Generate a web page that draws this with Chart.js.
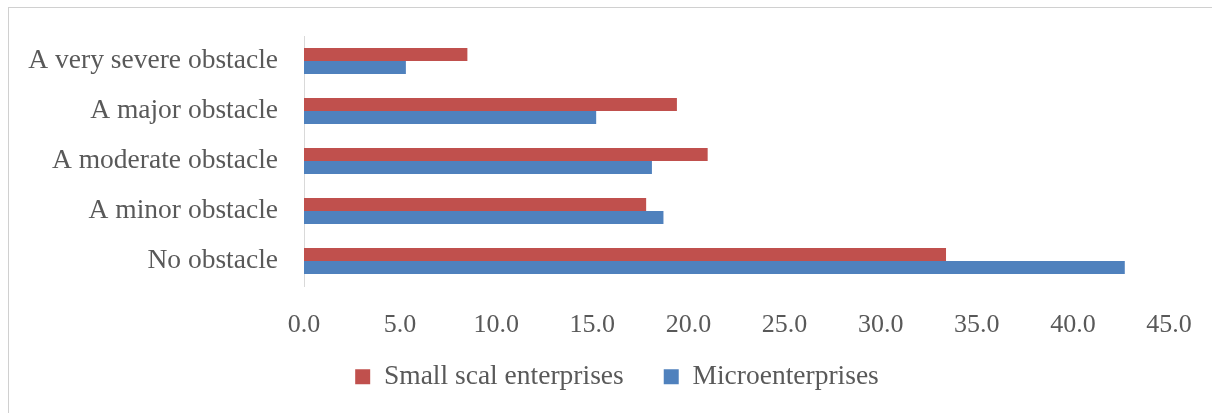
<!DOCTYPE html>
<html>
<head>
<meta charset="utf-8">
<title>Obstacle ratings by enterprise size</title>
<script src="https://cdn.jsdelivr.net/npm/chart.js@4.4.1/dist/chart.umd.min.js"></script>
<style>
  html, body { margin: 0; padding: 0; background: #ffffff; overflow: hidden; }
  body { width: 1212px; height: 413px; position: relative; }
  /* light grey frame round the chart */
  .frame {
    position: absolute; left: 8px; top: 7px; width: 1220px; height: 420px;
    border-left: 1px solid #d0d0d0; border-top: 1px solid #d0d0d0;
  }
  .chart-box { position: absolute; left: 9px; top: 8px; width: 1203px; height: 405px; }
</style>
</head>
<body>
<div class="frame"></div>
<div class="chart-box"><canvas id="obstacleChart"></canvas></div>
<script>
// Categories, top to bottom
const categories = [
  "A very severe obstacle",
  "A major obstacle",
  "A moderate obstacle",
  "A minor obstacle",
  "No obstacle"
];

// Percent of firms in each group
const smallScale = [8.5, 19.4, 21.0, 17.8, 33.4];
const micro = [5.3, 15.2, 18.1, 18.7, 42.7];

const seriesNames = ["Small scal enterprises", "Microenterprises"];
const xTicks = [0, 5, 10, 15, 20, 25, 30, 35, 40, 45];

const textColor = "#595959";
const fontFamily = "'Garamond', 'Liberation Serif', 'DejaVu Serif', serif";

// legend: fixed block height, then nudge it up closer to the axis labels
const legendPlace = {
  id: "legendPlace",
  beforeInit(chart) {
    const origFit = chart.legend.fit;
    chart.legend.fit = function fit() {
      origFit.bind(chart.legend)();
      this.height = 73;
    };
  },
  afterLayout(chart) {
    const lg = chart.legend;
    lg.top -= 17;
    lg.bottom -= 17;
    lg.left += 28;
    lg.right += 28;
  }
};

const ctx = document.getElementById("obstacleChart").getContext("2d");

new Chart(ctx, {
  type: "bar",
  data: {
    labels: categories,
    datasets: [
      {
        label: seriesNames[0],
        data: smallScale,
        backgroundColor: "#c0504d",
        borderWidth: 0
      },
      {
        label: seriesNames[1],
        data: micro,
        backgroundColor: "#4f81bd",
        borderWidth: 0
      }
    ]
  },
  plugins: [legendPlace],
  options: {
    indexAxis: "y",
    responsive: true,
    maintainAspectRatio: false,
    animation: false,
    layout: {
      padding: { top: 28, right: 43, bottom: 0, left: 0 }
    },
    datasets: {
      bar: { categoryPercentage: 0.52, barPercentage: 1.0 }
    },
    scales: {
      x: {
        min: 0,
        max: 45,
        afterBuildTicks: (scale) => {
          scale.ticks = xTicks.map(v => ({ value: v }));
        },
        afterFit: (scale) => {
          scale.height = 54;
          scale.paddingRight = 0;
        },
        grid: { display: false },
        border: { display: false },
        ticks: {
          padding: 16,
          color: textColor,
          font: { family: fontFamily, size: 26 },
          callback: (value) => Number(value).toFixed(1)
        }
      },
      y: {
        afterFit: (scale) => {
          scale.width = 295;
          scale.paddingTop = 0;
          scale.paddingBottom = 0;
        },
        grid: { display: false },
        border: { display: true, color: "#d9d9d9", width: 1 },
        ticks: {
          padding: 18,
          color: textColor,
          font: { family: fontFamily, size: 27.5 }
        }
      }
    },
    plugins: {
      tooltip: { enabled: false },
      legend: {
        position: "bottom",
        labels: {
          color: textColor,
          font: { family: fontFamily, size: 27.5 },
          boxWidth: 15,
          boxHeight: 15,
          padding: 40
        }
      }
    }
  }
});
</script>
</body>
</html>
